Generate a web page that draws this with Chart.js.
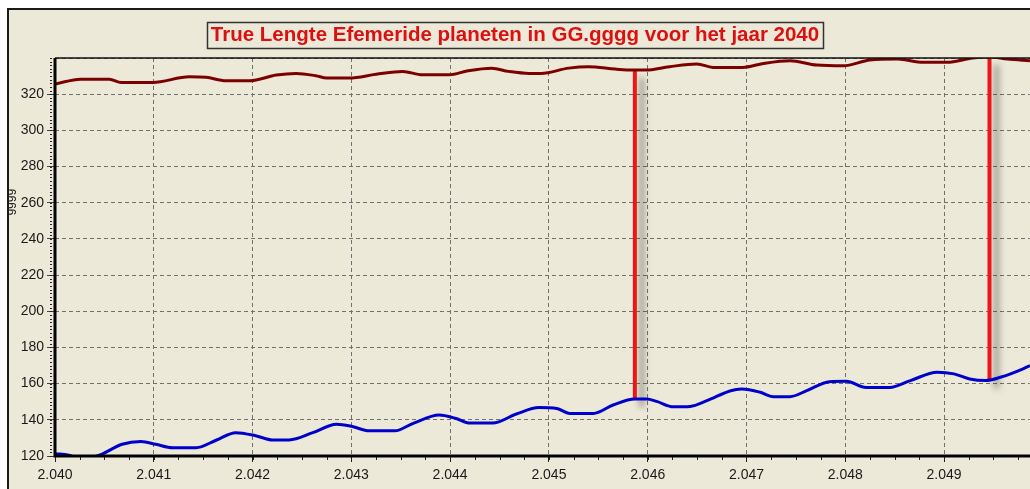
<!DOCTYPE html>
<html><head><meta charset="utf-8">
<script src="https://cdn.jsdelivr.net/npm/chart.js@4.4.1/dist/chart.umd.min.js"></script>
<style>html,body{margin:0;padding:0;background:#fff;overflow:hidden}canvas{display:block}</style>
</head><body>
<canvas id="c" width="1030" height="489"></canvas>
<script>
const titleText = 'True Lengte Efemeride planeten in GG.gggg voor het jaar 2040';
const axisTitleText = 'gggg';

const redYears = [2040.00, 2040.26, 2040.55, 2040.67, 2040.99, 2041.36, 2041.53, 2041.73, 2041.97, 2042.24, 2042.44, 2042.64, 2042.75, 2042.98, 2043.25, 2043.52, 2043.72, 2043.99, 2044.18, 2044.42, 2044.59, 2044.80, 2044.92, 2045.20, 2045.40, 2045.67, 2045.84, 2045.98, 2046.22, 2046.50, 2046.66, 2046.96, 2047.17, 2047.44, 2047.71, 2047.98, 2048.25, 2048.53, 2048.79, 2049.03, 2049.29, 2049.46, 2049.64, 2049.87];
const redValues = [325.6, 328.3, 328.3, 326.5, 326.5, 329.6, 329.3, 327.4, 327.4, 330.6, 331.5, 330.2, 328.9, 328.9, 331.0, 332.6, 330.7, 330.7, 332.9, 334.3, 332.6, 331.5, 331.5, 334.4, 335.2, 333.9, 333.3, 333.3, 335.2, 336.7, 334.8, 334.8, 337.0, 338.5, 336.1, 335.7, 338.9, 339.4, 337.6, 337.6, 340.0, 340.7, 339.4, 338.5];

const blueYears = [2040.00, 2040.14, 2040.20, 2040.32, 2040.45, 2040.68, 2040.87, 2041.02, 2041.19, 2041.43, 2041.63, 2041.83, 2042.04, 2042.20, 2042.37, 2042.61, 2042.85, 2043.01, 2043.18, 2043.44, 2043.62, 2043.89, 2044.06, 2044.20, 2044.43, 2044.67, 2044.90, 2045.08, 2045.21, 2045.45, 2045.65, 2045.87, 2045.99, 2046.09, 2046.26, 2046.43, 2046.60, 2046.84, 2046.95, 2047.14, 2047.27, 2047.44, 2047.61, 2047.84, 2048.01, 2048.21, 2048.45, 2048.66, 2048.93, 2049.10, 2049.26, 2049.42, 2049.57, 2049.80, 2049.87];
const blueValues = [121.3, 120.4, 119.5, 118.8, 120.4, 126.5, 128.0, 126.5, 124.6, 124.6, 128.7, 132.9, 131.1, 128.9, 128.9, 132.9, 137.6, 136.3, 133.9, 133.9, 137.9, 142.6, 140.7, 138.2, 138.2, 143.2, 146.8, 146.3, 143.5, 143.5, 148.2, 151.5, 151.5, 150.2, 147.2, 147.4, 150.6, 156.1, 157.0, 155.2, 152.8, 152.8, 156.1, 161.1, 161.3, 157.9, 157.9, 161.7, 166.3, 165.4, 162.6, 161.7, 163.5, 168.2, 170.0];

const markerYears = [2045.87, 2049.46];
const markerBottom = [151.5, 161.7];
const markerTop = [333.3, 340.7];

const xMin = 2040, xMax = 2049.87, xStep = 1;
const yMin = 120, yMax = 340, yStep = 20;

function fmtYear(v){ const s = String(Math.round(v)); return s.slice(0,1) + '.' + s.slice(1); }

const W = 1030, H = 489;
const FONT = '"Liberation Sans", Arial, sans-serif';
const TITLE_SIZE = 20.5;

const framePlugin = {
  id: 'frame',
  beforeDraw(chart){
    const ctx = chart.ctx;
    ctx.save();
    ctx.fillStyle = '#ffffff'; ctx.fillRect(0,0,W,H);
    ctx.fillStyle = '#ece9d8'; ctx.fillRect(8,9,W-8,H-9);
    ctx.strokeStyle = '#1a1a1a'; ctx.lineWidth = 2;
    ctx.beginPath(); ctx.moveTo(8,H); ctx.lineTo(8,9); ctx.lineTo(W,9); ctx.stroke();
    ctx.restore();
  },
  afterDatasetsDraw(chart){
    const {ctx, chartArea:a, scales:{x,y}} = chart;
    ctx.save();
    ctx.strokeStyle = '#222'; ctx.lineWidth = 1;
    for (let v = x.min; v <= x.max + 1e-9; v += 0.25){
      const px = Math.round(x.getPixelForValue(v)) + 0.5;
      ctx.beginPath(); ctx.moveTo(px, a.bottom); ctx.lineTo(px, a.bottom + 4); ctx.stroke();
    }
    for (let v = y.min; v <= y.max + 1e-9; v += 2){
      const py = Math.round(y.getPixelForValue(v)) + 0.5;
      ctx.beginPath(); ctx.moveTo(a.left - 5, py); ctx.lineTo(a.left - 3, py); ctx.stroke();
    }
    ctx.lineWidth = 1.5; ctx.strokeStyle = '#111';
    ctx.beginPath(); ctx.moveTo(a.left, a.top); ctx.lineTo(a.right, a.top); ctx.stroke();
    ctx.lineWidth = 3; ctx.strokeStyle = '#000';
    ctx.beginPath(); ctx.moveTo(a.left, a.top); ctx.lineTo(a.left, a.bottom); ctx.lineTo(a.right, a.bottom); ctx.stroke();
    ctx.restore();
  },
  afterDraw(chart){
    const ctx = chart.ctx;
    const tb = chart.titleBlock;
    const t = chart.options.plugins.title;
    ctx.save();
    ctx.font = 'bold ' + t.font.size + 'px ' + FONT;
    const w = ctx.measureText(titleText).width;
    const cx = (tb.left + tb.right) / 2;
    const cy = tb.top + t.padding.top + t.font.size * 1.2 / 2;
    ctx.strokeStyle = '#333'; ctx.lineWidth = 1.5;
    ctx.strokeRect(Math.round(cx - w/2 - 4) + 0.5, Math.round(cy - 13) + 0.5, Math.round(w + 8), 26);
    ctx.beginPath(); ctx.rect(9, 150, 8, 100); ctx.clip();
    ctx.translate(10, 202); ctx.rotate(-Math.PI/2);
    ctx.font = '12px ' + FONT; ctx.textAlign = 'center'; ctx.textBaseline = 'middle';
    ctx.fillStyle = '#222'; ctx.fillText(axisTitleText, 0, 0);
    ctx.restore();
  }
};

const shadowPlugin = {
  id: 'markerShadow',
  beforeDatasetDraw(chart, args){
    if (chart.data.datasets[args.index].isMarker){
      const c = chart.ctx; c.save();
      c.shadowColor = 'rgba(40,40,40,0.5)'; c.shadowBlur = 6; c.shadowOffsetX = 7; c.shadowOffsetY = 8;
    }
  },
  afterDatasetDraw(chart, args){
    if (chart.data.datasets[args.index].isMarker){ chart.ctx.restore(); }
  }
};

const datasets = [
  { label: 'rood', data: redYears.map((x,i)=>({x, y: redValues[i]})), borderColor: '#7d0000', borderWidth: 3, pointRadius: 0, cubicInterpolationMode: 'monotone', clip: 0 },
  { label: 'blauw', data: blueYears.map((x,i)=>({x, y: blueValues[i]})), borderColor: '#0000cc', borderWidth: 3, pointRadius: 0, cubicInterpolationMode: 'monotone', clip: 0 }
];
markerYears.forEach((mx, i) => {
  datasets.push({ label: 'marker' + i, isMarker: true, data: [{x: mx, y: markerBottom[i]}, {x: mx, y: markerTop[i]}], borderColor: '#ee1515', borderWidth: 4, pointRadius: 0, clip: 0, borderCapStyle: 'butt' });
});

new Chart(document.getElementById('c'), {
  type: 'line',
  data: { datasets },
  plugins: [framePlugin, shadowPlugin],
  options: {
    responsive: false, animation: false, devicePixelRatio: 1,
    layout: { padding: { left: 0, right: 0, top: 0, bottom: 0 } },
    plugins: {
      legend: { display: false }, tooltip: { enabled: false },
      title: { display: true, text: titleText, color: '#dd1010', font: { family: FONT, size: TITLE_SIZE, weight: 'bold', lineHeight: 1.2 }, padding: { top: 22.7, bottom: 10.7 } }
    },
    scales: {
      x: {
        type: 'linear', min: xMin, max: xMax,
        afterFit(s){ s.height = 33; },
        ticks: { stepSize: xStep, includeBounds: false, autoSkip: false, maxRotation: 0, padding: 5, color: '#1a1a1a', font: { family: FONT, size: 14 }, callback: v => fmtYear(v) },
        grid: { color: '#707070', lineWidth: 1, tickLength: 6, tickColor: '#222' },
        border: { display: false, dash: [4,3] }
      },
      y: {
        type: 'linear', min: yMin, max: yMax,
        afterFit(s){ s.width = 55; },
        ticks: { stepSize: yStep, includeBounds: false, padding: 3, color: '#1a1a1a', font: { family: FONT, size: 14 }, callback: v => (v >= yMax ? '' : String(v)) },
        grid: { color: '#707070', lineWidth: 1, tickLength: 8, tickColor: ctx => (ctx.tick && ctx.tick.value >= yMax ? 'rgba(0,0,0,0)' : '#444') },
        border: { display: false, dash: [4,3] }
      }
    }
  }
});
</script>
</body></html>
